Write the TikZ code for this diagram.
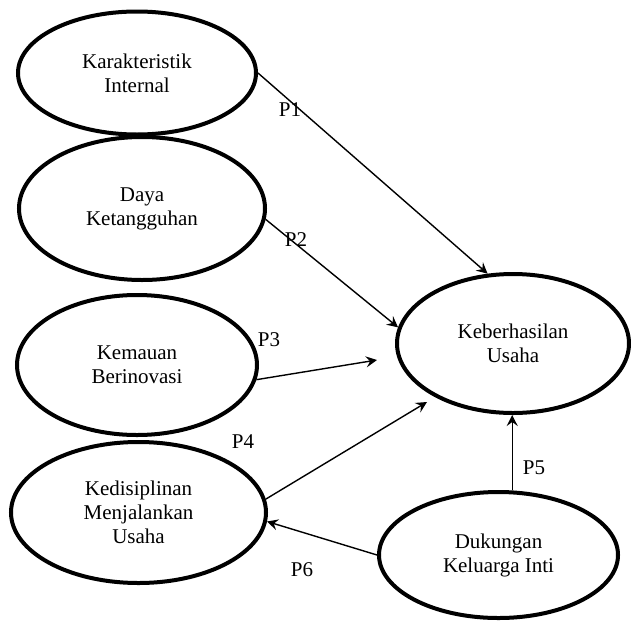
\documentclass[tikz,border=0pt]{standalone}
\usepackage{fontspec}
\setmainfont{Liberation Serif}
\usetikzlibrary{shapes.geometric,arrows.meta}

\begin{document}
\begin{tikzpicture}[x=1pt,y=-1pt,
  konstruk/.style={ellipse, draw, line width=4pt, align=center, inner sep=0pt,
    font=\fontsize{21}{24}\selectfont},
  jalur/.style={line width=1.4pt, -{Stealth[length=11pt,width=11pt,inset=4pt]}},
  kode/.style={inner sep=0pt, font=\fontsize{21}{24}\selectfont}]

\useasboundingbox (0,0) rectangle (631,621);

% variabel bebas
\node[konstruk, minimum width=238pt, minimum height=123pt] (kInt)     at (137,73)    {Karakteristik\\Internal};
\node[konstruk, minimum width=246pt, minimum height=143pt] (daya)     at (142,208.5) {Daya\\Ketangguhan};
\node[konstruk, minimum width=240pt, minimum height=140pt] (kemauan)  at (137,365)   {Kemauan\\Berinovasi};
\node[konstruk, minimum width=255pt, minimum height=141pt] (disiplin) at (138.5,512.5) {Kedisiplinan\\Menjalankan\\Usaha};
\node[konstruk, minimum width=239pt, minimum height=126pt] (dukung)   at (498.5,555) {Dukungan\\Keluarga Inti};

% variabel terikat
\node[konstruk, minimum width=232pt, minimum height=139pt] (hasil)    at (513,343.5) {Keberhasilan\\Usaha};

\coordinate (p3end) at (377,360);
\coordinate (p4end) at (427,402);

% jalur
\draw[jalur] (kInt.east)     -- (hasil.110);
\draw[jalur] (daya.-5)       -- (hasil.172);
\draw[jalur] (kemauan.-7)    -- (p3end);
\draw[jalur] (disiplin.6)    -- (p4end);
\draw[jalur] (dukung.78)     -- (dukung.78 |- hasil.south);
\draw[jalur] (dukung.west)   -- (disiplin.-4);

% hipotesis
\node[kode] (h1) at (290,110) {P1};
\node[kode] (h2) at (296,240) {P2};
\node[kode] (h3) at (269,340) {P3};
\node[kode] (h4) at (243,442) {P4};
\node[kode] (h5) at (534,468) {P5};
\node[kode] (h6) at (302,570) {P6};

\end{tikzpicture}
\end{document}
